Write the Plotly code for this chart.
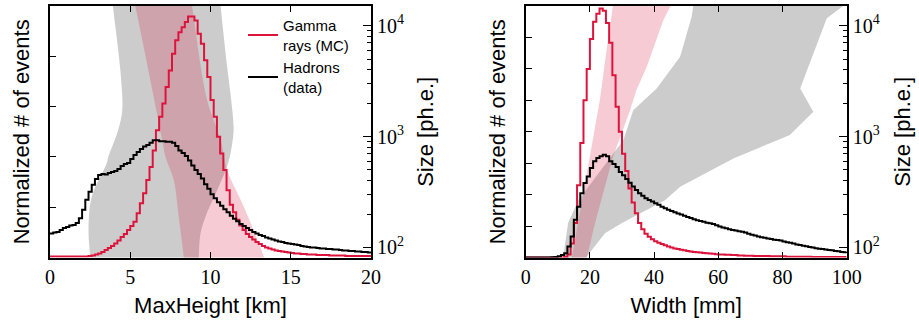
import numpy as np
import plotly.graph_objects as go

# ---------------- data ----------------
maxheight_edges = np.linspace(0, 20, 101)   # km, 0.2 km bins
width_edges = np.linspace(0, 100, 101)      # mm, 1 mm bins

gamma_maxheight = [
    0.02, 0.02, 0.02, 0.02, 0.02, 0.02, 0.02, 0.02, 0.02, 0.02, 0.02, 0.02,
    0.03, 0.04, 0.06, 0.08, 0.11, 0.15, 0.19, 0.23, 0.28, 0.34, 0.41, 0.47,
    0.55, 0.63, 0.71, 0.88, 1.08, 1.28, 1.54, 1.80, 2.13, 2.53, 2.80, 3.06,
    3.39, 3.72, 4.05, 4.32, 4.48, 4.58, 4.68, 4.79, 4.79, 4.71, 4.45, 4.25,
    3.92, 3.59, 3.13, 2.80, 2.40, 2.07, 1.74, 1.34, 1.05, 0.90, 0.75, 0.64,
    0.55, 0.47, 0.41, 0.36, 0.31, 0.27, 0.23, 0.20, 0.18, 0.16, 0.14, 0.13,
    0.12, 0.11, 0.10, 0.09, 0.08, 0.08, 0.07, 0.07, 0.06, 0.06, 0.06, 0.05,
    0.05, 0.05, 0.05, 0.04, 0.04, 0.04, 0.04, 0.04, 0.03, 0.03, 0.03, 0.03,
    0.03, 0.03, 0.03, 0.03,
]
hadron_maxheight = [
    0.48, 0.50, 0.51, 0.55, 0.59, 0.61, 0.64, 0.65, 0.69, 0.78, 0.95, 1.15,
    1.31, 1.45, 1.56, 1.64, 1.66, 1.65, 1.68, 1.70, 1.72, 1.76, 1.82, 1.86,
    1.88, 1.96, 2.04, 2.10, 2.16, 2.21, 2.24, 2.28, 2.33, 2.33, 2.31, 2.31,
    2.30, 2.30, 2.28, 2.22, 2.13, 2.08, 2.02, 1.93, 1.83, 1.74, 1.66, 1.57,
    1.46, 1.37, 1.26, 1.18, 1.10, 1.03, 0.96, 0.90, 0.83, 0.77, 0.72, 0.67,
    0.63, 0.59, 0.55, 0.51, 0.48, 0.45, 0.43, 0.40, 0.38, 0.36, 0.34, 0.32,
    0.31, 0.29, 0.28, 0.27, 0.26, 0.25, 0.23, 0.22, 0.21, 0.20, 0.20, 0.19,
    0.18, 0.18, 0.17, 0.17, 0.16, 0.16, 0.15, 0.14, 0.14, 0.13, 0.13, 0.12,
    0.12, 0.11, 0.11, 0.10,
]
gamma_width = [
    0, 0, 0, 0, 0, 0, 0, 0, 0, 0, 0, 0,
    0.02, 0.10, 0.45, 1.10, 2.30, 3.64, 5.00, 6.00, 6.95, 7.50, 7.75, 7.92,
    7.85, 7.46, 6.83, 5.80, 4.80, 4.00, 3.30, 2.75, 2.20, 1.75, 1.41, 1.10,
    0.90, 0.76, 0.66, 0.58, 0.52, 0.47, 0.43, 0.39, 0.35, 0.32, 0.29, 0.27,
    0.25, 0.23, 0.21, 0.19, 0.18, 0.17, 0.16, 0.15, 0.14, 0.13, 0.12, 0.11,
    0.10, 0.10, 0.09, 0.09, 0.08, 0.08, 0.07, 0.07, 0.06, 0.06, 0.06,
    0.05, 0.05, 0.05, 0.05, 0.05, 0.04, 0.04, 0.04, 0.04, 0.04,
    0.03, 0.03, 0.03, 0.03, 0.03, 0.03, 0.03, 0.03,
    0.02, 0.02, 0.02, 0.02, 0.02, 0.02, 0.02, 0.02, 0.02, 0.02, 0.02,
]
hadron_width = [
    0, 0, 0, 0, 0, 0, 0, 0,
    0.01, 0.02, 0.04, 0.08, 0.14, 0.35, 0.67, 1.20, 1.62, 2.05, 2.37, 2.58,
    2.85, 3.06, 3.17, 3.22, 3.27, 3.22, 3.06, 2.98, 2.88, 2.72, 2.62, 2.50,
    2.38, 2.26, 2.15, 2.05, 1.97, 1.89, 1.83, 1.78, 1.73, 1.68, 1.62, 1.57,
    1.52, 1.48, 1.44, 1.40, 1.37, 1.33, 1.29, 1.26, 1.22, 1.19, 1.16, 1.14,
    1.11, 1.09, 1.07, 1.03, 0.99, 0.96, 0.93, 0.90, 0.88, 0.86, 0.84, 0.82,
    0.80, 0.76, 0.73, 0.70, 0.67, 0.65, 0.63, 0.61, 0.59, 0.57, 0.56, 0.54,
    0.51, 0.49, 0.47, 0.45, 0.42, 0.40, 0.38, 0.36, 0.34, 0.32, 0.30, 0.28,
    0.27, 0.26, 0.24, 0.23, 0.21, 0.20, 0.18, 0.17,
]

# Size bands (x position vs. Size [ph.e.]); left edge bottom->top, right edge top->bottom
had_mh_left_x = [2.5, 2.5, 2.4, 2.6, 3.54, 3.63, 4.25, 4.5, 4.45, 4.25, 3.92, 3.85]
had_mh_left_s = [60, 81, 143, 286, 577, 653, 1145, 1730, 3040, 6040, 15060, 20000]
had_mh_right_x = [10.55, 10.63, 11.04, 11.36, 11.44, 11.38, 11.2, 10.95, 10.42, 9.69, 9.38, 9.27, 9.25]
had_mh_right_s = [20000, 15060, 4267, 1730, 1145, 929, 653, 499, 329, 189, 134, 82, 60]

gam_mh_left_x = [8.4, 8.33, 8.02, 7.71, 7.2, 7.0, 5.31, 5.1]
gam_mh_left_s = [60, 82, 189, 405, 653, 929, 15060, 20000]
gam_mh_right_x = [8.7, 8.85, 9.79, 10.63, 11.04, 12.08, 13.33, 13.6]
gam_mh_right_s = [20000, 15060, 2135, 929, 499, 232, 82, 60]

had_w_left_x = [11.5, 11.7, 13.2, 16.4, 30.4, 33.5, 40.8, 48.1, 51.7, 52.2, 52.3]
had_w_left_s = [60, 82, 166, 267, 929, 1730, 2720, 5250, 12060, 15060, 20000]
had_w_right_x = [100.5, 98.9, 93.8, 85.5, 89.6, 82.3, 64.7, 48.1, 43.4, 30.0, 24.7, 18.9, 18.0]
had_w_right_s = [20000, 15060, 11660, 2720, 1675, 1033, 636, 352, 267, 166, 134.6, 82, 60]

gam_w_left_x = [14.0, 14.4, 16.3, 20.0, 23.1, 25.2, 27.4, 27.8]
gam_w_left_s = [60, 82, 166, 658, 2135, 6040, 14840, 20000]
gam_w_right_x = [45.5, 45.0, 42.9, 37.7, 34.5, 32.5, 27.2, 21.6, 19.1, 18.6]
gam_w_right_s = [20000, 14840, 11250, 4267, 2630, 1730, 658, 166, 82, 60]

size_ticks = [100, 1000, 10000]
size_ticktext = ["10<sup>2</sup>", "10<sup>3</sup>", "10<sup>4</sup>"]
size_minor = [90, 200, 300, 400, 500, 600, 700, 800, 900,
              2000, 3000, 4000, 5000, 6000, 7000, 8000, 9000]

# ---------------- style ----------------
W, H = 919, 323
RED = "#DC143C"
PINK = "rgba(220,20,60,0.22)"
GRAY = "#cccccc"
SERIF = "Liberation Serif"
SANS = "Liberation Sans"

fig = go.Figure()


def band(xl, sl, xr, sr, color, xa, ya, shape):
    fig.add_trace(go.Scatter(
        x=list(xl) + list(xr), y=list(sl) + list(sr), fill="toself",
        fillcolor=color, mode="lines", line=dict(width=0, color=color, shape=shape),
        hoverinfo="skip", showlegend=False, xaxis=xa, yaxis=ya))


def step(edges, vals, color, name, xa, ya, show):
    fig.add_trace(go.Scatter(
        x=list(edges), y=list(vals) + [vals[-1]], mode="lines",
        line=dict(color=color, width=2, shape="hv"), name=name,
        showlegend=show, xaxis=xa, yaxis=ya))


band(had_mh_left_x, had_mh_left_s, had_mh_right_x, had_mh_right_s, GRAY, "x", "y", "spline")
band(gam_mh_left_x, gam_mh_left_s, gam_mh_right_x, gam_mh_right_s, PINK, "x", "y", "spline")
band(had_w_left_x, had_w_left_s, had_w_right_x, had_w_right_s, GRAY, "x2", "y3", "linear")
band(gam_w_left_x, gam_w_left_s, gam_w_right_x, gam_w_right_s, PINK, "x2", "y3", "linear")

step(maxheight_edges, gamma_maxheight, RED, "Gamma<br>rays (MC)", "x", "y2", True)
step(maxheight_edges, hadron_maxheight, "black", "Hadrons<br>(data)", "x", "y2", True)
step(width_edges, gamma_width, RED, "Gamma", "x2", "y4", False)
step(width_edges, hadron_width, "black", "Hadrons", "x2", "y4", False)

ydom = [1 - 257.6 / H, 1 - 6 / H]
dom1 = [50 / W, 371 / W]
dom2 = [525.7 / W, 846.7 / W]
srange = [np.log10(81.0), np.log10(15060.0)]

axcommon = dict(showline=True, linecolor="black", linewidth=2, showgrid=False,
                zeroline=False, ticks="inside", tickcolor="black", tickwidth=1,
                automargin=False)


def xaxis(dom, rng, dtick, title, anchor):
    return dict(axcommon, domain=dom, range=rng, dtick=dtick, tick0=0, mirror="ticks",
                ticklen=6, anchor=anchor,
                tickfont=dict(family=SERIF, size=20, color="black"),
                title=dict(text=title, font=dict(family=SANS, size=22, color="black"),
                           standoff=11))


def logaxis(anchor, standoff):
    return dict(axcommon, domain=ydom, type="log", range=srange, side="right",
                anchor=anchor, tickvals=size_ticks, ticktext=size_ticktext, ticklen=8,
                tickfont=dict(family=SERIF, size=20, color="black"),
                minor=dict(ticks="inside", ticklen=4, tickcolor="black", tickwidth=1,
                           tickmode="array", tickvals=size_minor, showgrid=False),
                title=dict(text="Size [ph.e.]", font=dict(family=SANS, size=22, color="black"),
                           standoff=standoff))


def linaxis(over, anchor, top):
    return dict(axcommon, overlaying=over, anchor=anchor, side="left", range=[0, top],
                tickvals=list(range(1, top)), showticklabels=False, ticklen=6,
                title=dict(text="Normalized # of events",
                           font=dict(family=SANS, size=22, color="black"), standoff=12))


fig.update_layout(
    width=W, height=H, margin=dict(l=0, r=0, t=0, b=0),
    paper_bgcolor="white", plot_bgcolor="white",
    xaxis=xaxis(dom1, [0, 20], 5, "MaxHeight [km]", "y"),
    yaxis=logaxis("x", 15),
    yaxis2=linaxis("y", "x", 5),
    xaxis2=xaxis(dom2, [0, 100], 20, "Width [mm]", "y3"),
    yaxis3=logaxis("x2", 16),
    yaxis4=linaxis("y3", "x2", 8),
    legend=dict(x=243 / W, y=1 - 9 / H, xanchor="left", yanchor="top",
                bgcolor="rgba(0,0,0,0)", font=dict(family=SANS, size=15, color="black"),
                itemwidth=30, tracegroupgap=0),
    showlegend=True,
)

fig.write_html("out.html")
